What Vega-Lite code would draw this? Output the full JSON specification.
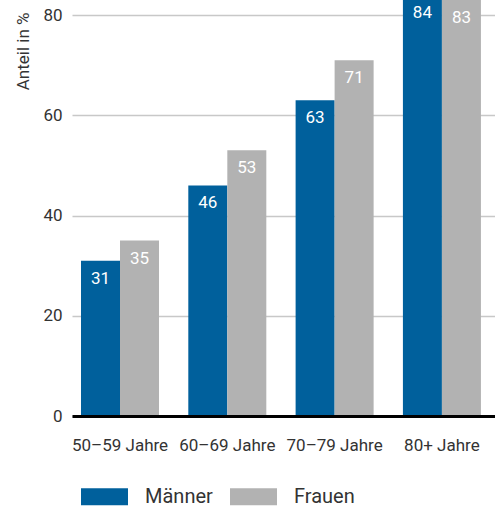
{
  "$schema": "https://vega.github.io/schema/vega-lite/v6.json",
  "width": 423,
  "height": 416,
  "autosize": {"type": "none"},
  "padding": {"left": 72, "top": 0, "right": 0, "bottom": 90},
  "config": {"font": "Roboto", "view": {"stroke": null}},
  "data": {
    "values": [
      {"gruppe": "50–59 Jahre", "geschlecht": "Männer", "wert": 31},
      {"gruppe": "50–59 Jahre", "geschlecht": "Frauen", "wert": 35},
      {"gruppe": "60–69 Jahre", "geschlecht": "Männer", "wert": 46},
      {"gruppe": "60–69 Jahre", "geschlecht": "Frauen", "wert": 53},
      {"gruppe": "70–79 Jahre", "geschlecht": "Männer", "wert": 63},
      {"gruppe": "70–79 Jahre", "geschlecht": "Frauen", "wert": 71},
      {"gruppe": "80+ Jahre", "geschlecht": "Männer", "wert": 84},
      {"gruppe": "80+ Jahre", "geschlecht": "Frauen", "wert": 83}
    ]
  },
  "encoding": {
    "x": {
      "field": "gruppe", "type": "nominal",
      "sort": ["50–59 Jahre", "60–69 Jahre", "70–79 Jahre", "80+ Jahre"],
      "scale": {"paddingInner": 0.273, "paddingOuter": 0.1075, "align": 0.39},
      "axis": {"title": null, "labelAngle": 0, "labelFontSize": 17, "labelColor": "#333333", "domainColor": "#000000", "domainWidth": 3, "ticks": false, "labelPadding": 21, "grid": false, "zindex": 1}
    },
    "xOffset": {
      "field": "geschlecht", "type": "nominal", "sort": ["Männer", "Frauen"],
      "scale": {"paddingInner": 0, "paddingOuter": 0}
    },
    "y": {
      "field": "wert", "type": "quantitative",
      "scale": {"domain": [0, 83], "nice": false},
      "axis": {
        "values": [0, 20, 40, 60, 80],
        "title": "Anteil in %", "titleFontSize": 17, "titleFontWeight": "normal", "titleColor": "#333333",
        "titleX": -44, "titleY": 12, "titleAlign": "right", "titleBaseline": "alphabetic", "titleAngle": -90,
        "labelFontSize": 17, "labelColor": "#333333", "labelPadding": 10,
        "domain": false, "ticks": false,
        "gridColor": "#c8c8c8", "gridWidth": 1.5
      }
    }
  },
  "layer": [
    {
      "mark": {"type": "bar", "clip": true},
      "encoding": {
        "color": {
          "field": "geschlecht", "type": "nominal",
          "scale": {"domain": ["Männer", "Frauen"], "range": ["#00609c", "#b2b2b2"]},
          "legend": {
            "orient": "none", "legendX": 9, "legendY": 473, "direction": "horizontal", "title": null,
            "symbolType": "M-1,-0.36H1V0.36H-1Z", "symbolSize": 2209, "symbolStrokeWidth": 0,
            "labelFontSize": 20, "labelOffset": 17, "columnPadding": 17, "labelColor": "#333333"
          }
        }
      }
    },
    {
      "mark": {"type": "text", "baseline": "top", "dy": 10, "fontSize": 17, "color": "#ffffff"},
      "encoding": {"text": {"field": "wert", "type": "quantitative"}}
    }
  ]
}
